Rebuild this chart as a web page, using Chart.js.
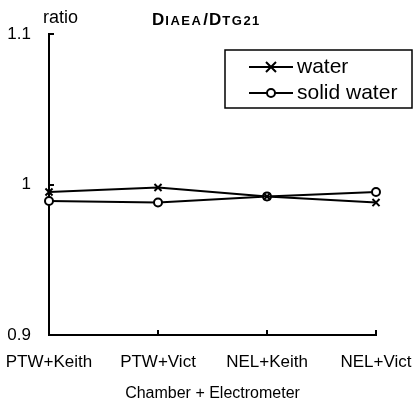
<!DOCTYPE html>
<html>
<head>
<meta charset="utf-8">
<script src="https://cdn.jsdelivr.net/npm/chart.js@4/dist/chart.umd.min.js"></script>
<style>
html,body{margin:0;padding:0;background:#fff;}
#wrap{width:415px;height:403px;position:relative;}
</style>
</head>
<body>
<div id="wrap"><canvas id="c" width="415" height="403"></canvas></div>
<script>
const categories = ["PTW+Keith", "PTW+Vict", "NEL+Keith", "NEL+Vict"];
const waterValues = [0.995, 0.998, 0.992, 0.988];
const solidWaterValues = [0.989, 0.988, 0.992, 0.995];
const seriesLabels = ["water", "solid water"];
const yTickLabels = { "0.9": "0.9", "1.0": "1", "1.1": "1.1" };
const yAxisTitle = "ratio";
const xAxisTitle = "Chamber + Electrometer";
const titleParts = [["D", "big"], ["IAEA", "small"], ["/", "big"], ["D", "big"], ["TG21", "small"]];

const FONT = "'Liberation Sans', Arial, Helvetica, sans-serif";

const extrasPlugin = {
  id: 'extras',
  afterDraw(chart) {
    const ctx = chart.ctx;
    const xs = chart.scales.x, ys = chart.scales.y;
    const area = chart.chartArea;
    ctx.save();
    ctx.strokeStyle = '#000';
    ctx.fillStyle = '#000';
    ctx.lineWidth = 2;
    // inner tick marks
    ctx.beginPath();
    xs.ticks.forEach((t, i) => {
      if (i === 0) return;
      const px = Math.round(xs.getPixelForTick(i));
      ctx.moveTo(px, area.bottom);
      ctx.lineTo(px, area.bottom - 5);
    });
    ys.ticks.forEach((t, i) => {
      const py = Math.round(ys.getPixelForTick(i));
      if (Math.abs(py - area.bottom) < 2) return;
      ctx.moveTo(area.left, py);
      ctx.lineTo(area.left + 5, py);
    });
    ctx.stroke();

    // y axis title "ratio"
    ctx.font = "18px " + FONT;
    ctx.textAlign = 'left';
    ctx.textBaseline = 'alphabetic';
    ctx.fillText(yAxisTitle, 43, 23);

    // chart title with small caps subscripts
    let x = 152;
    const base = 25;
    titleParts.forEach(([txt, kind]) => {
      if (kind === 'big') {
        ctx.font = "bold 17px " + FONT;
        ctx.letterSpacing = '0px';
      } else {
        ctx.font = "bold 13px " + FONT;
        ctx.letterSpacing = '1.5px';
      }
      ctx.fillText(txt, x, base);
      x += ctx.measureText(txt).width + 1;
    });
    ctx.letterSpacing = '0px';

    // legend box
    const bx = 225, by = 50, bw = 187, bh = 58;
    ctx.lineWidth = 1.5;
    ctx.strokeStyle = '#000';
    ctx.strokeRect(bx, by, bw, bh);
    const rows = [67, 93];
    chart.data.datasets.forEach((ds, i) => {
      const y = rows[i];
      ctx.lineWidth = 2;
      ctx.strokeStyle = ds.borderColor;
      ctx.beginPath();
      ctx.moveTo(249, y);
      ctx.lineTo(293, y);
      ctx.stroke();
      ctx.beginPath();
      if (ds.pointStyle === 'crossRot') {
        const r = 5;
        ctx.moveTo(271 - r, y - r); ctx.lineTo(271 + r, y + r);
        ctx.moveTo(271 - r, y + r); ctx.lineTo(271 + r, y - r);
        ctx.stroke();
      } else {
        ctx.fillStyle = '#fff';
        ctx.arc(271, y, 4, 0, Math.PI * 2);
        ctx.fill();
        ctx.stroke();
      }
      ctx.fillStyle = '#000';
      ctx.font = "21px " + FONT;
      ctx.textBaseline = 'middle';
      ctx.fillText(ds.label, 297, y);
    });
    ctx.restore();
  }
};

new Chart(document.getElementById('c'), {
  type: 'line',
  data: {
    labels: categories,
    datasets: [
      {
        label: seriesLabels[0],
        data: waterValues,
        borderColor: '#000',
        backgroundColor: '#000',
        borderWidth: 2,
        pointStyle: 'crossRot',
        pointRadius: 5,
        pointBorderWidth: 2,
        tension: 0
      },
      {
        label: seriesLabels[1],
        data: solidWaterValues,
        borderColor: '#000',
        backgroundColor: '#fff',
        borderWidth: 2,
        pointStyle: 'circle',
        pointRadius: 4,
        pointBorderWidth: 2,
        tension: 0
      }
    ]
  },
  options: {
    responsive: false,
    animation: false,
    devicePixelRatio: 1,
    layout: { padding: { left: 0, top: 34, right: 39, bottom: 0 } },
    plugins: {
      legend: { display: false },
      title: { display: false },
      tooltip: { enabled: false }
    },
    scales: {
      x: {
        type: 'category',
        offset: false,
        grid: { display: false, drawTicks: false },
        border: { display: true, color: '#000', width: 2 },
        ticks: {
          color: '#000',
          font: { family: FONT, size: 17 },
          padding: 17,
          maxRotation: 0,
          autoSkip: false
        },
        title: {
          display: true,
          text: xAxisTitle,
          color: '#000',
          font: { family: FONT, size: 16 },
          padding: { top: 2, bottom: 0 }
        },
        afterFit(scale) {
          scale.height = 68;
          scale.paddingLeft = 0;
          scale.paddingRight = 0;
        }
      },
      y: {
        min: 0.9,
        max: 1.1,
        grid: { display: false, drawTicks: false },
        border: { display: true, color: '#000', width: 2 },
        ticks: {
          stepSize: 0.1,
          color: '#000',
          font: { family: FONT, size: 17 },
          padding: 18,
          callback(v) { return yTickLabels[(Math.round(v * 10) / 10).toFixed(1)]; }
        },
        afterFit(scale) {
          scale.width = 49;
          scale.paddingTop = 0;
          scale.paddingBottom = 0;
        }
      }
    }
  },
  plugins: [extrasPlugin]
});
</script>
</body>
</html>
